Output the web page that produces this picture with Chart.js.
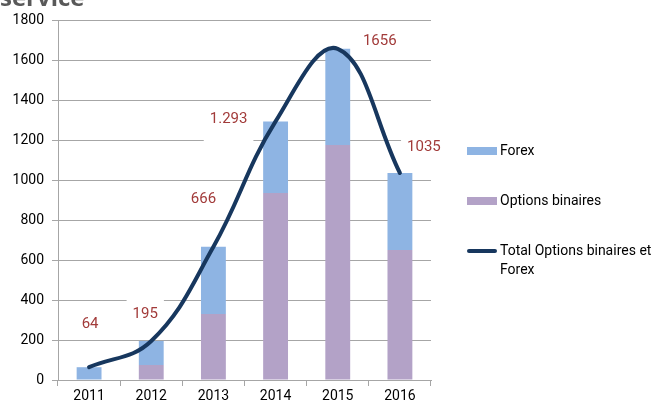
<!DOCTYPE html>
<html>
<head>
<meta charset="utf-8">
<script src="https://cdn.jsdelivr.net/npm/chart.js@4.4.1/dist/chart.umd.min.js"></script>
<style>
  html, body { margin: 0; padding: 0; background: #fff; }
  #wrap { position: relative; width: 666px; height: 405px; overflow: hidden; font-family: Roboto, sans-serif; }
  #title { position: absolute; left: 0; top: -20px; font: bold 24px 'Open Sans', sans-serif; color: #595959; }
  .leg { position: absolute; left: 467px; font-size: 14px; color: #000; }
  .sw { position: absolute; left: 0; width: 30px; }
  .lt { position: absolute; left: 33px; white-space: nowrap; line-height: 19px; }
</style>
</head>
<body>
<div id="wrap">
  <canvas id="chart" width="666" height="405"></canvas>
  <div id="title">service</div>
  <div class="leg" style="top:147px"><div class="sw" style="top:0;height:8px;background:#8EB4E3"></div><div class="lt" style="top:-6px">Forex</div></div>
  <div class="leg" style="top:197px"><div class="sw" style="top:0;height:8px;background:#B3A2C7"></div><div class="lt" style="top:-6px">Options binaires</div></div>
  <div class="leg" style="top:249px"><div class="sw" style="top:0;height:4px;background:#17375E;border-radius:2px"></div><div class="lt" style="top:-8px">Total Options binaires et<br>Forex</div></div>
</div>
<script>
// Données
const years = ['2011', '2012', '2013', '2014', '2015', '2016'];
const optionsBinaires = [0, 75, 330, 935, 1175, 650];
const forex = [64, 120, 336, 358, 481, 385];
const totals = [64, 195, 666, 1293, 1656, 1035];
const totalLabels = ['64', '195', '666', '1.293', '1656', '1035'];
const yTicks = [0, 200, 400, 600, 800, 1000, 1200, 1400, 1600, 1800];

// décalage des étiquettes par rapport au point (px)
const labelOffsets = [[1, -43], [-6, -27], [-10, -48], [-47, -2], [42, -8], [24, -26]];
const labelBoxBottom = [15, 15, 15, 24, 15, 15];

const gridColor = '#A6A6A6';

const totalLabelsPlugin = {
    id: 'totalLabels',
    beforeDatasetsDraw(chart) {
        const ctx = chart.ctx;
        const x = chart.scales.x, y = chart.scales.y;
        ctx.save();
        ctx.font = '15px Roboto, sans-serif';
        ctx.textAlign = 'center';
        ctx.textBaseline = 'middle';
        totals.forEach((v, i) => {
            const px = x.getPixelForValue(i) + labelOffsets[i][0];
            const py = y.getPixelForValue(v) + labelOffsets[i][1];
            const w = ctx.measureText(totalLabels[i]).width;
            ctx.fillStyle = '#fff';
            ctx.fillRect(px - w / 2 - 6, py - 15, w + 12, 15 + labelBoxBottom[i]);
            ctx.fillStyle = '#A23B3A';
            ctx.fillText(totalLabels[i], px, py);
        });
        ctx.restore();
    }
};

const ctx = document.getElementById('chart').getContext('2d');
new Chart(ctx, {
    data: {
        labels: years,
        datasets: [{
            type: 'line',
            label: 'Total Options binaires et Forex',
            data: totals,
            borderColor: '#17375E',
            borderWidth: 4,
            borderCapStyle: 'round',
            pointRadius: 0,
            tension: 0.4,
            stack: 'line',
            order: 0
        }, {
            type: 'bar',
            label: 'Options binaires',
            data: optionsBinaires,
            backgroundColor: '#B3A2C7',
            stack: 'bars',
            barPercentage: 0.4,
            categoryPercentage: 1,
            order: 1
        }, {
            type: 'bar',
            label: 'Forex',
            data: forex,
            backgroundColor: '#8EB4E3',
            stack: 'bars',
            barPercentage: 0.4,
            categoryPercentage: 1,
            order: 1
        }]
    },
    options: {
        responsive: false,
        animation: false,
        layout: { padding: { top: 20, right: 235, left: 0, bottom: 0 } },
        plugins: {
            legend: { display: false },
            tooltip: { enabled: false }
        },
        scales: {
            x: {
                stacked: true,
                offset: true,
                grid: { display: true, drawOnChartArea: false, drawTicks: true, tickLength: 6, color: gridColor, offset: true },
                border: { color: gridColor },
                ticks: { color: '#000', font: { family: 'Roboto', size: 14 }, padding: 2 },
                afterFit(scale) { scale.height = 25; }
            },
            y: {
                stacked: true,
                min: 0,
                max: 1800,
                afterBuildTicks(scale) { scale.ticks = yTicks.map(v => ({ value: v })); },
                grid: { color: gridColor, tickLength: 6 },
                border: { color: gridColor },
                ticks: { color: '#000', font: { family: 'Roboto', size: 14 }, padding: 8, callback: v => String(v) },
                afterFit(scale) { scale.width = 58; }
            }
        }
    },
    plugins: [totalLabelsPlugin]
});
</script>
</body>
</html>
